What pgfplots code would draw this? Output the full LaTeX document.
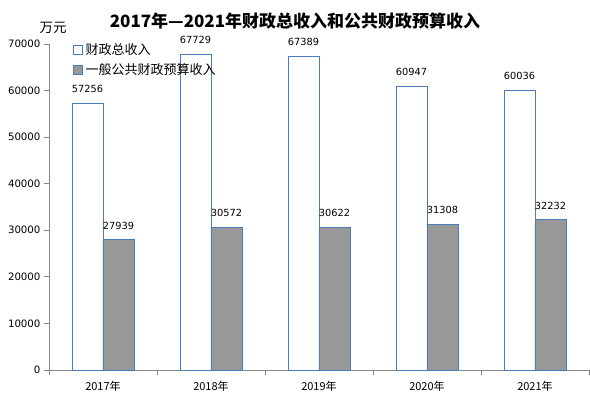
\documentclass[border=0pt]{standalone}
\usepackage{pgfplots}
\pgfplotsset{compat=1.18}
\usepackage{fontspec}
\setmainfont{DejaVu Sans}
\newfontfamily\cjk{Noto Sans CJK SC}
\definecolor{bordblue}{HTML}{4A7EBB}
\definecolor{barg}{HTML}{989898}
\definecolor{axgray}{HTML}{868686}
\begin{document}
\begin{tikzpicture}[x=1pt,y=1pt]
\path[use as bounding box] (0,0) rectangle (590,402);
\node[font=\cjk\bfseries\fontsize{17}{17}\selectfont] at (295,381) {2017年—2021年财政总收入和公共财政预算收入};
\node[font=\cjk\fontsize{13.5}{13.5}\selectfont] at (53,374) {万元};
\begin{axis}[
  at={(49pt,32pt)}, anchor=south west,
  scale only axis, width=540pt, height=326pt,
  ymin=0, ymax=70000,
  xmin=-0.5, xmax=4.5,
  ybar=0pt, bar width=31pt,
  axis lines*=left,
  axis line style={axgray, line width=0.8pt},
  every tick/.style={axgray, line width=0.8pt},
  tick align=outside,
  major tick length=5pt,
  xtick={-0.5,0.5,1.5,2.5,3.5,4.5},
  x tick label as interval,
  xticklabels={{\cjk 2017年},{\cjk 2018年},{\cjk 2019年},{\cjk 2020年},{\cjk 2021年}},
  ytick={0,10000,...,70000},
  /pgf/number format/assume math mode=true,
  /pgf/number format/1000 sep={},
  scaled y ticks=false,
  ticklabel style={font=\fontsize{10.2}{10.2}\selectfont, text=black},
  x tick label style={font=\cjk\fontsize{11}{11}\selectfont, yshift=-3pt},
  nodes near coords,
  every node near coord/.append style={font=\fontsize{9.8}{9.8}\selectfont, text=black, yshift=7pt},
  legend style={at={(rel axis cs:0.043,1.01)}, anchor=north west, draw=none, fill=none,
    font=\cjk\fontsize{13}{13}\selectfont, row sep=3pt, inner sep=1pt,
    nodes={inner xsep=2.5pt}},
  legend cell align=left,
  legend image code/.code={\draw[#1, line width=0.8pt] (0pt,-4.5pt) rectangle (9pt,4.5pt);},
  clip=false,
]
\addplot[draw=bordblue, fill=white, line width=0.8pt] coordinates {(0,57256) (1,67729) (2,67389) (3,60947) (4,60036)};
\addplot[draw=bordblue, fill=barg, line width=0.8pt] coordinates {(0,27939) (1,30572) (2,30622) (3,31308) (4,32232)};
\legend{财政总收入,一般公共财政预算收入}
\end{axis}
\end{tikzpicture}
\end{document}
